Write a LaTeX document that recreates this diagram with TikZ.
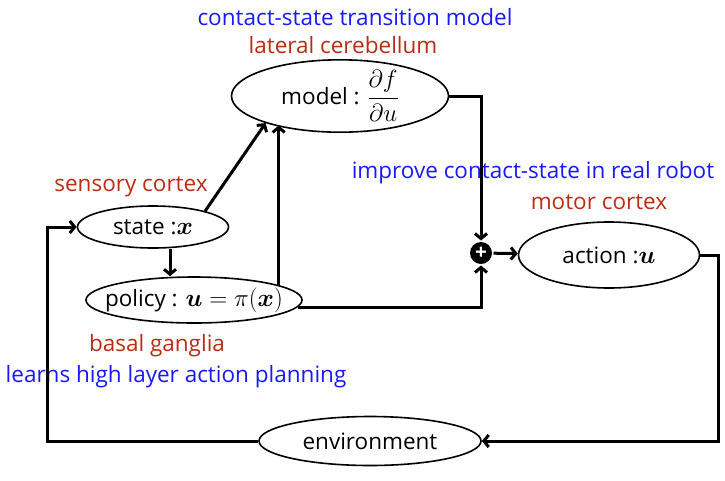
\documentclass[tikz,border=0pt]{standalone}
\usepackage{amsmath,bm}
\usepackage{fontspec}
\setmainfont{Open Sans}
\usetikzlibrary{arrows.meta,shapes.geometric}
\definecolor{brainred}{RGB}{185,45,20}
\definecolor{roleblue}{RGB}{25,25,255}
\newcommand{\sizea}{\fontsize{22.5}{26}\selectfont}
\newcommand{\mth}[1]{{\fontsize{30}{32}\selectfont$#1$}}
\tikzset{every path/.style={line width=3pt}}
\tikzset{blk/.style={ellipse, draw, line width=1.6pt, inner sep=0pt, font=\sizea},
  lbl/.style={inner sep=0pt, font=\sizea},
  link/.style={-{Straight Barb[length=5pt,width=12pt]}}}

\begin{document}
\begin{tikzpicture}[x=1pt,y=-1pt]
\useasboundingbox (0,0) rectangle (725,480);
\node[lbl, text=roleblue] (tmodel) at (355,17) {contact-state transition model};
\node[lbl, text=brainred] (cereb) at (343,45) {lateral cerebellum};
\node[blk, minimum width=217, minimum height=68] (model) at (340,96) {model : {\fontsize{25}{28}\selectfont$\dfrac{\partial f}{\partial u}$}};
\node[lbl, text=brainred] (sensory) at (131,187) {sensory cortex};
\node[blk, minimum width=151, minimum height=42] (state) at (153,227) {state :\mth{\bm{x}}};
\node[blk, minimum width=216, minimum height=46, inner xsep=-18pt] (policy) at (194,300) {policy : \mth{\bm{u}=\pi(\bm{x})}};
\node[lbl, text=brainred] (basal) at (157,346) {basal ganglia};
\node[lbl, text=roleblue] (learns) at (176,377) {learns high layer action planning};
\node[lbl, text=roleblue] (improve) at (533,173) {improve contact-state in real robot};
\node[lbl, text=brainred] (motor) at (599,202) {motor cortex};
\node[circle, fill, minimum size=22, inner sep=0pt, text=white, font=\huge\bfseries] (sum) at (481,253) {+};
\node[blk, minimum width=181, minimum height=66] (action) at (609,255) {action :\mth{\bm{u}}};
\node[blk, minimum width=222, minimum height=49] (env) at (370,441) {environment};
\draw[link] (state.17) -- (model.200);
\draw[link] ([xshift=17]state.south) -- ([xshift=17]state.south |- policy.north);
\draw[link] (policy.10) -- (policy.10 |- model.204);
\draw[link] (model.east) -| (sum.north);
\draw[link] (policy.-4) -| (sum.south);
\draw[link] (sum) -- (action);
\draw[link] (action.east) -- ([xshift=18]action.east) |- (env.east);
\draw[link] (env.west) -| ([xshift=-29]state.west) -- (state.west);
\end{tikzpicture}
\end{document}
